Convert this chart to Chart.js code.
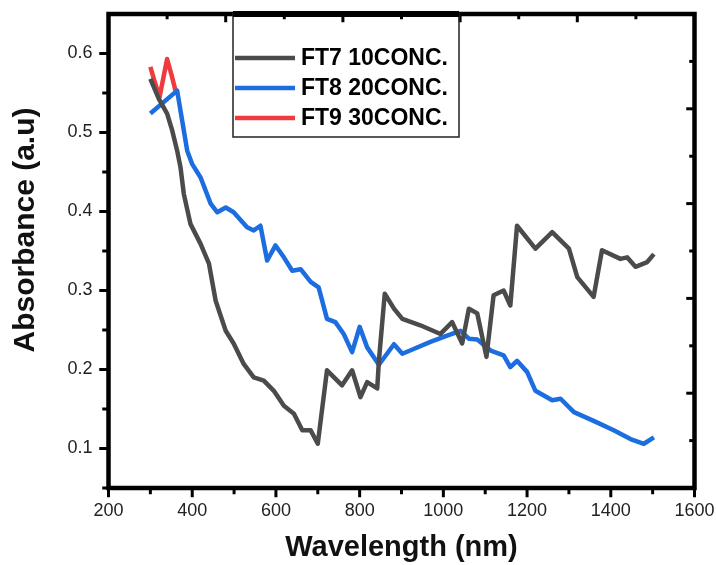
<!DOCTYPE html>
<html>
<head>
<meta charset="utf-8">
<script src="https://cdn.jsdelivr.net/npm/chart.js@4.4.1/dist/chart.umd.min.js"></script>
<style>
  html, body { margin: 0; padding: 0; background: #fff; }
  #wrap { width: 716px; height: 565px; }
</style>
</head>
<body>
<div id="wrap"><canvas id="myChart" width="716" height="565"></canvas></div>
<script>
const ctx = document.getElementById('myChart');

// FT7 10CONC.
const ft7Wave = [300, 320, 340, 352, 364, 372, 380, 396, 420, 440, 456, 480, 499, 523, 547, 571, 595, 619, 643, 663, 683, 700, 722, 758, 782, 802, 818, 842, 846, 860, 882, 902, 945, 993, 1021, 1045, 1061, 1081, 1103, 1120, 1144, 1160, 1176, 1220, 1260, 1300, 1320, 1359, 1379, 1423, 1439, 1459, 1487, 1503];
const ft7Abs  = [0.568, 0.543, 0.524, 0.503, 0.477, 0.456, 0.422, 0.384, 0.359, 0.334, 0.287, 0.249, 0.233, 0.207, 0.190, 0.186, 0.173, 0.154, 0.144, 0.123, 0.123, 0.106, 0.199, 0.180, 0.199, 0.165, 0.184, 0.176, 0.211, 0.296, 0.277, 0.264, 0.256, 0.245, 0.260, 0.233, 0.277, 0.271, 0.216, 0.294, 0.300, 0.281, 0.382, 0.353, 0.374, 0.353, 0.317, 0.292, 0.351, 0.340, 0.342, 0.330, 0.336, 0.346];

// FT8 20CONC.
const ft8Wave = [300, 364, 388, 400, 420, 444, 460, 480, 499, 531, 547, 563, 579, 599, 619, 639, 659, 683, 702, 722, 742, 762, 782, 800, 818, 846, 882, 902, 929, 969, 1009, 1041, 1061, 1081, 1113, 1144, 1160, 1176, 1200, 1220, 1260, 1280, 1312, 1359, 1407, 1447, 1479, 1503];
const ft8Abs  = [0.524, 0.553, 0.477, 0.460, 0.443, 0.410, 0.399, 0.405, 0.399, 0.380, 0.376, 0.382, 0.338, 0.357, 0.342, 0.325, 0.327, 0.311, 0.304, 0.264, 0.260, 0.245, 0.222, 0.254, 0.228, 0.206, 0.232, 0.220, 0.226, 0.235, 0.243, 0.249, 0.239, 0.238, 0.224, 0.218, 0.203, 0.211, 0.197, 0.173, 0.161, 0.163, 0.146, 0.135, 0.123, 0.112, 0.106, 0.114];

// FT9 30CONC.
const ft9Wave = [300, 310, 322, 340, 352, 360];
const ft9Abs  = [0.583, 0.565, 0.545, 0.593, 0.570, 0.553];

const xTickValues = [200, 400, 600, 800, 1000, 1200, 1400, 1600];
const yTickValues = [0.1, 0.2, 0.3, 0.4, 0.5, 0.6];

const seriesLabels = ['FT7 10CONC.', 'FT8 20CONC.', 'FT9 30CONC.'];
const seriesColors = ['#4b4b4b', '#1c6ee0', '#ef3a3e'];

function toPoints(xs, ys) {
    return xs.map((x, i) => ({x: x, y: ys[i]}));
}

const frameLine = 4.5;
const fontFam = '"Liberation Sans", Arial, sans-serif';

// frame, ticks, y title and legend box drawn on top
const framePlugin = {
    id: 'frame',
    afterDraw(chart) {
        const c = chart.ctx;
        const a = chart.chartArea;
        const xs = chart.scales.x;
        const ys = chart.scales.y;
        c.save();
        c.strokeStyle = '#000';
        c.lineCap = 'butt';

        // ticks bottom (outward)
        c.lineWidth = 3;
        for (let v = 200; v <= 1600; v += 100) {
            const px = xs.getPixelForValue(v);
            const len = (v % 200 === 0) ? 7 : 4;
            c.beginPath();
            c.moveTo(px, a.bottom);
            c.lineTo(px, a.bottom + frameLine / 2 + len);
            c.stroke();
        }
        // ticks left (outward)
        for (let k = 1; k <= 12; k++) {
            const v = 0.05 * k;
            const py = ys.getPixelForValue(v);
            if (py < a.top + 2) continue;
            const len = (k % 2 === 0) ? 7 : 4;
            c.beginPath();
            c.moveTo(a.left, py);
            c.lineTo(a.left - frameLine / 2 - len, py);
            c.stroke();
        }
        // ticks top and right (inward, 10 divisions)
        for (let k = 1; k < 10; k++) {
            const len = (k % 2 === 0) ? 6 : 3;
            const px = a.left + (a.right - a.left) * k / 10;
            c.beginPath();
            c.moveTo(px, a.top);
            c.lineTo(px, a.top + frameLine / 2 + len);
            c.stroke();
            const py = a.top + (a.bottom - a.top) * k / 10;
            c.beginPath();
            c.moveTo(a.right, py);
            c.lineTo(a.right - frameLine / 2 - len, py);
            c.stroke();
        }

        // frame
        c.lineWidth = frameLine;
        c.lineJoin = 'miter';
        c.strokeRect(a.left, a.top, a.right - a.left, a.bottom - a.top);

        // y title
        c.save();
        c.translate(26, 230);
        c.rotate(-Math.PI / 2);
        c.font = 'bold 30px ' + fontFam;
        c.fillStyle = '#111';
        c.textAlign = 'center';
        c.textBaseline = 'middle';
        c.fillText('Absorbance (a.u)', 0, 0);
        c.restore();

        // legend
        const boxL = 233, boxR = 459, boxT = a.top, boxB = 137;
        c.lineWidth = 1.5;
        c.strokeStyle = '#222';
        c.strokeRect(boxL, boxT, boxR - boxL, boxB - boxT);
        c.fillStyle = '#000';
        c.fillRect(boxL, boxT - 3, boxR - boxL, 6);
        c.font = 'bold 23px ' + fontFam;
        c.textBaseline = 'middle';
        c.textAlign = 'left';
        chart.data.datasets.forEach((ds, i) => {
            const ry = 58 + i * 30;
            c.strokeStyle = ds.borderColor;
            c.lineWidth = 4.5;
            c.beginPath();
            c.moveTo(boxL + 2, ry);
            c.lineTo(boxL + 62, ry);
            c.stroke();
            c.fillStyle = '#000';
            c.fillText(ds.label, boxL + 68, ry + 1);
        });
        c.restore();
    }
};

const labelFont = {family: fontFam, size: 18};

let dataChart = new Chart(ctx, {
type: 'line',
data: {
    datasets: [
        {label: seriesLabels[0], data: toPoints(ft7Wave, ft7Abs), borderColor: seriesColors[0]},
        {label: seriesLabels[1], data: toPoints(ft8Wave, ft8Abs), borderColor: seriesColors[1]},
        {label: seriesLabels[2], data: toPoints(ft9Wave, ft9Abs), borderColor: seriesColors[2]}
    ].map(d => Object.assign(d, {borderWidth: 4.5, pointRadius: 0, fill: false, tension: 0, borderJoinStyle: 'round'}))
},
options: {
    responsive: false,
    animation: false,
    devicePixelRatio: 1,
    layout: {padding: {left: 0, top: 14, right: 21.5, bottom: 0}},
    scales: {
        x: {
            type: 'linear',
            min: 200,
            max: 1600,
            afterBuildTicks: (s) => { s.ticks = xTickValues.map(v => ({value: v})); },
            afterFit: (s) => { s.height = 77; s.paddingLeft = 0; s.paddingRight = 0; },
            grid: {display: false},
            border: {display: false},
            ticks: {
                padding: 4,
                color: '#222',
                font: labelFont,
                maxRotation: 0,
                callback: (v) => String(v)
            },
            title: {
                display: true,
                text: 'Wavelength (nm)',
                color: '#111',
                font: {family: fontFam, size: 29, weight: 'bold'},
                padding: {top: 0, bottom: 0}
            }
        },
        y: {
            min: 0.05,
            max: 0.65,
            afterBuildTicks: (s) => { s.ticks = yTickValues.map(v => ({value: v})); },
            afterFit: (s) => { s.width = 108.5; s.paddingTop = 0; s.paddingBottom = 0; },
            grid: {display: false},
            border: {display: false},
            ticks: {
                padding: 8,
                color: '#222',
                font: labelFont,
                callback: (v) => v.toFixed(1)
            },
            title: {display: false}
        }
    },
    plugins: {
        legend: {display: false},
        tooltip: {enabled: false}
    }
},
plugins: [framePlugin]
});
</script>
</body>
</html>
